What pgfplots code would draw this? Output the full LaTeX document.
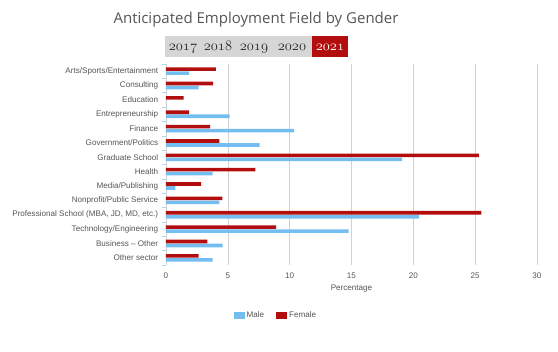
\documentclass[border=0pt]{standalone}
\usepackage{pgfplots}
\pgfplotsset{compat=1.18}
\usepackage{fontspec}
\setmainfont{Liberation Sans}
\newfontfamily\titlefont{Open Sans}
\definecolor{maleblue}{RGB}{116,189,240}
\definecolor{femred}{RGB}{178,14,14}
\definecolor{txtgray}{RGB}{85,85,85}
\definecolor{gridgray}{RGB}{210,210,210}
\definecolor{stripgray}{RGB}{214,214,214}
\newcommand{\osf}[1]{{\usefont{OML}{cmm}{m}{it}#1}}
\begin{document}
\begin{tikzpicture}
\path[use as bounding box] (0pt,0pt) rectangle (558pt,352pt);
\node[font=\titlefont\fontsize{15}{18}\selectfont, text=txtgray] at (256pt,332pt) {Anticipated Employment Field by Gender};
\fill[stripgray] (165pt,295pt) rectangle (312pt,316pt);
\fill[femred] (312pt,295pt) rectangle (348pt,316pt);
\begin{scope}[every node/.style={anchor=base, font=\fontsize{15}{17}\selectfont, inner sep=0pt}]
\node[text=black!85] at (183pt,301pt) {\osf{2017}};
\node[text=black!85] at (218pt,301pt) {\osf{2018}};
\node[text=black!85] at (254pt,301pt) {\osf{2019}};
\node[text=black!85] at (292pt,301pt) {\osf{2020}};
\node[text=white] at (330pt,301pt) {\osf{2021}};
\end{scope}
\begin{axis}[at={(166pt,87pt)}, anchor=south west, scale only axis,
  width=371pt, height=201pt,
  xbar, bar width=3.6pt,
  xmin=0, xmax=30, ymin=-0.5, ymax=13.5, y dir=reverse,
  ytick={0,...,13},
  yticklabels={Arts/Sports/Entertainment, Consulting, Education, Entrepreneurship, Finance, Government/Politics, Graduate School, Health, Media/Publishing, Nonprofit/Public Service, {Professional School (MBA, JD, MD, etc.)}, Technology/Engineering, Business -- Other, Other sector},
  xtick={0,5,...,30},
  xmajorgrids, grid style={gridgray, line width=0.6pt},
  axis line style={draw=none},
  major tick style={draw=none},
  ytick pos=left, xtick pos=bottom,
  minor ytick={-0.5,0.5,...,13.5},
  minor tick length=4pt, tick align=outside,
  minor tick style={draw=maleblue!60, line width=0.5pt},
  tick label style={font=\fontsize{8.1}{9.5}\selectfont, text=txtgray},
  /pgf/number format/assume math mode=true,
  xlabel={Percentage},
  xlabel style={font=\fontsize{8.1}{9.5}\selectfont, text=txtgray},
  legend columns=2,
  legend style={draw=none, at={(0.296,-0.249)}, anchor=center,
    font=\fontsize{8.1}{9.5}\selectfont, text=txtgray,
    /tikz/every even column/.append style={column sep=10pt}},
  legend image code/.code={\fill[#1] (0pt,-3.5pt) rectangle (11pt,3.5pt);},
]
\addplot[fill=maleblue, draw=none, bar shift=-2pt] coordinates {
(1.86,0) (2.64,1) (0,2) (5.14,3) (10.37,4) (7.57,5) (19.1,6) (3.77,7) (0.75,8) (4.31,9) (20.47,10) (14.76,11) (4.58,12) (3.77,13)};
\addplot[fill=femred, draw=none, bar shift=2pt] coordinates {
(4.04,0) (3.82,1) (1.43,2) (1.86,3) (3.56,4) (4.31,5) (25.29,6) (7.22,7) (2.85,8) (4.55,9) (25.5,10) (8.91,11) (3.34,12) (2.64,13)};
\legend{Male, Female}
\end{axis}
\end{tikzpicture}
\end{document}
